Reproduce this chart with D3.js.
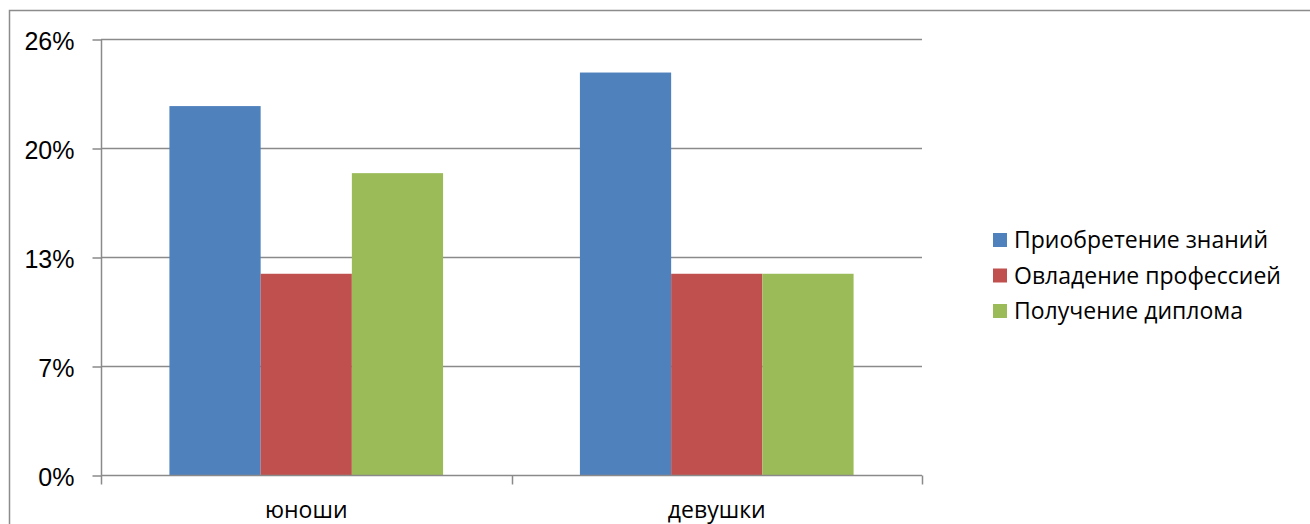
<!DOCTYPE html>
<html>
<head>
<meta charset="utf-8">
<script src="https://cdn.jsdelivr.net/npm/d3@7"></script>
<style>
  html, body { margin: 0; padding: 0; background: #fff; }
  svg { display: block; }
</style>
</head>
<body>
<svg id="chart" width="1310" height="524"></svg>
<script>
// Share of answers by group, percent
const categories = ["юноши", "девушки"];
const seriesNames = ["Приобретение знаний", "Овладение профессией", "Получение диплома"];
const knowledge = [22, 24];
const profession = [12, 12];
const diploma = [18, 12];
const tickValues = [0, 6.5, 13, 19.5, 26];
const tickLabels = ["0%", "7%", "13%", "20%", "26%"];
const colors = ["#4F81BD", "#C0504D", "#9BBB59"];

const seriesValues = [knowledge, profession, diploma];

const svg = d3.select("#chart");
const plot = { left: 101, right: 922, top: 39, bottom: 475 };

// Outer chart frame
svg.append("rect")
  .attr("x", 9.5).attr("y", 10.5)
  .attr("width", 1400).attr("height", 600)
  .attr("fill", "none").attr("stroke", "#8c8c8c").attr("stroke-width", 1.5);

const x0 = d3.scaleBand().domain(categories).range([plot.left, plot.right]).paddingInner(0).paddingOuter(0);
const x1 = d3.scaleBand().domain(seriesNames).range([x0.bandwidth() / 6, x0.bandwidth() * 5 / 6]);
const y = d3.scaleLinear().domain([0, 26]).range([plot.bottom, plot.top]);

// Horizontal gridlines
svg.append("g").selectAll("line")
  .data(tickValues.filter(v => v > 0))
  .join("line")
  .attr("x1", plot.left).attr("x2", plot.right)
  .attr("y1", d => Math.round(y(d)) + 0.5).attr("y2", d => Math.round(y(d)) + 0.5)
  .attr("stroke", "#8a8a8a").attr("stroke-width", 1.5);

// Bars
const groups = svg.append("g").selectAll("g")
  .data(categories)
  .join("g")
  .attr("transform", d => `translate(${x0(d)},0)`);

groups.selectAll("rect")
  .data((c, ci) => seriesNames.map((s, si) => ({ s, si, v: seriesValues[si][ci] })))
  .join("rect")
  .attr("x", d => x1(d.s))
  .attr("width", x1.bandwidth())
  .attr("y", d => y(d.v))
  .attr("height", d => plot.bottom - y(d.v))
  .attr("fill", d => colors[d.si]);

// Y axis
const yAxis = d3.axisLeft(y).tickValues(tickValues).tickFormat((d, i) => tickLabels[i]).tickSize(9).tickPadding(18);
const yg = svg.append("g").attr("transform", `translate(${plot.left + 0.5},0.5)`).call(yAxis);
yg.selectAll("line, path").attr("stroke", "#8a8a8a").attr("stroke-width", 1.5);
yg.select(".domain").attr("d", `M0,${plot.top}V${plot.bottom}`);
yg.selectAll("text")
  .attr("font-family", "'Liberation Sans', Arial, sans-serif")
  .attr("font-size", 25).attr("fill", "#000").attr("dy", "0.4em");

// X axis with ticks at band boundaries
const xg = svg.append("g").attr("transform", `translate(0,${plot.bottom + 0.5})`);
xg.append("line").attr("x1", plot.left).attr("x2", plot.right)
  .attr("stroke", "#8a8a8a").attr("stroke-width", 1.5);
const boundaries = [plot.left, ...categories.map(c => x0(c) + x0.bandwidth())];
xg.selectAll("line.tick").data(boundaries).join("line")
  .attr("class", "tick")
  .attr("x1", d => Math.round(d) + 0.5).attr("x2", d => Math.round(d) + 0.5)
  .attr("y1", 0).attr("y2", 9)
  .attr("stroke", "#8a8a8a").attr("stroke-width", 1.5);
xg.selectAll("text").data(categories).join("text")
  .attr("x", d => x0(d) + x0.bandwidth() / 2)
  .attr("y", 42)
  .attr("text-anchor", "middle")
  .attr("font-family", "'Open Sans', sans-serif")
  .attr("font-size", 23).attr("fill", "#000")
  .text(d => d);

// Legend
const legend = svg.append("g").attr("transform", "translate(993,233)");
const items = legend.selectAll("g").data(seriesNames).join("g")
  .attr("transform", (d, i) => `translate(0,${i * 35.5})`);
items.append("rect").attr("width", 14).attr("height", 14).attr("fill", (d, i) => colors[i]);
items.append("text")
  .attr("x", 21).attr("y", 7).attr("dy", "0.36em")
  .attr("font-family", "'Open Sans', sans-serif")
  .attr("font-size", 23).attr("fill", "#000")
  .text(d => d);
</script>
</body>
</html>
